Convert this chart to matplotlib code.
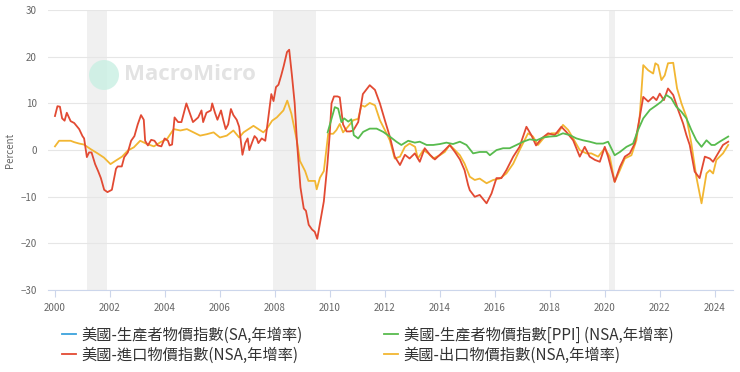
import matplotlib
matplotlib.use('Agg')
import matplotlib.pyplot as plt
from matplotlib.patches import Ellipse

plt.rcParams['font.family'] = ['Noto Sans CJK TC', 'DejaVu Sans']

# US import price index, YoY % (NSA)
imp_x = [2000.00, 2000.09, 2000.18, 2000.26, 2000.35, 2000.43, 2000.57, 2000.70, 2000.88, 2001.00,
         2001.06, 2001.16, 2001.24, 2001.33, 2001.46, 2001.57, 2001.67, 2001.79, 2001.91, 2002.07,
         2002.22, 2002.28, 2002.43, 2002.52, 2002.65, 2002.77, 2002.89, 2003.01, 2003.13, 2003.23,
         2003.28, 2003.38, 2003.50, 2003.62, 2003.74, 2003.87, 2003.99, 2004.11, 2004.17, 2004.26,
         2004.35, 2004.48, 2004.60, 2004.78, 2004.90, 2005.02, 2005.21, 2005.33, 2005.39, 2005.51,
         2005.67, 2005.72, 2005.82, 2005.91, 2006.04, 2006.12, 2006.21, 2006.30, 2006.40, 2006.49,
         2006.61, 2006.70, 2006.82, 2006.92, 2007.01, 2007.07, 2007.18, 2007.26, 2007.34, 2007.40,
         2007.52, 2007.65, 2007.74, 2007.87, 2007.95, 2008.04, 2008.13, 2008.23, 2008.32, 2008.44,
         2008.52, 2008.62, 2008.72, 2008.80, 2008.93, 2009.05, 2009.13, 2009.23, 2009.35, 2009.45,
         2009.54, 2009.66, 2009.78, 2009.91, 2009.99, 2010.06, 2010.15, 2010.28, 2010.36, 2010.48,
         2010.61, 2010.73, 2010.85, 2011.03, 2011.20, 2011.45, 2011.64, 2011.82, 2012.00, 2012.18,
         2012.36, 2012.55, 2012.73, 2012.90, 2013.09, 2013.27, 2013.45, 2013.64, 2013.82, 2014.00,
         2014.18, 2014.36, 2014.55, 2014.73, 2014.90, 2015.03, 2015.09, 2015.27, 2015.45, 2015.70,
         2015.88, 2016.06, 2016.24, 2016.42, 2016.67, 2016.90, 2017.15, 2017.33, 2017.50, 2017.70,
         2017.94, 2018.18, 2018.42, 2018.60, 2018.85, 2019.09, 2019.27, 2019.45, 2019.64, 2019.82,
         2020.00, 2020.12, 2020.36, 2020.55, 2020.73, 2020.91, 2021.09, 2021.21, 2021.40, 2021.58,
         2021.76, 2021.88, 2022.00, 2022.15, 2022.30, 2022.49, 2022.67, 2022.85, 2022.97, 2023.09,
         2023.27, 2023.45, 2023.64, 2023.82, 2023.94, 2024.12, 2024.30, 2024.49]
imp_y = [7.3, 9.4, 9.3, 6.8, 6.3, 8.0, 6.2, 5.8, 4.5, 3.0,
         2.5, -1.5, -0.5, -0.5, -3.0, -4.5, -6.0, -8.5, -9.0, -8.5,
         -4.0, -3.5, -3.5, -1.5, -0.5, 2.0, 3.0, 5.5, 7.5, 6.5,
         2.0, 1.0, 2.2, 2.0, 1.0, 0.8, 2.5, 2.0, 1.0, 1.2,
         7.0, 6.0, 6.0, 10.0, 8.0, 6.0, 7.0, 8.5, 6.0, 8.0,
         8.5, 10.0, 8.0, 6.5, 8.5, 6.5, 4.5, 5.5, 8.8, 7.5,
         6.5, 5.0, -1.0, 1.5, 2.5, 0.0, 1.8, 3.0, 2.5, 1.5,
         2.5, 2.0, 6.0, 12.0, 10.5, 13.5, 14.0, 16.0, 18.0, 21.0,
         21.5, 16.0, 10.0, 2.0, -8.0, -12.5, -13.0, -16.0, -17.0, -17.5,
         -19.0, -15.0, -11.0, -3.0, 3.0, 10.0, 11.5, 11.5, 11.3, 5.5,
         4.0, 4.0, 4.2, 6.0, 12.0, 13.9, 12.9, 10.0, 6.4, 2.9,
         -1.4, -3.2, -1.0, -1.8, -0.7, -2.5, 0.4, -1.0, -2.0, -1.0,
         0.0, 1.1, -0.4, -2.0, -4.3, -7.5, -8.6, -10.0, -9.6, -11.4,
         -9.3, -6.0, -6.0, -4.3, -1.4, 0.7, 5.0, 3.2, 1.0, 2.5,
         3.6, 3.2, 5.0, 3.9, 2.1, -1.4, 0.7, -1.4, -2.1, -2.5,
         0.7, -1.4, -6.8, -3.6, -1.4, -0.7, 1.4, 5.0, 11.4, 10.4,
         11.4, 10.7, 12.1, 10.7, 13.2, 11.8, 8.6, 5.7, 3.2, 1.1,
         -4.6, -6.0, -1.4, -1.8, -2.5, -0.7, 1.1, 1.8]

# US export price index, YoY % (NSA)
exp_x = [2000.00, 2000.15, 2000.35, 2000.57, 2000.70, 2000.88, 2001.05, 2001.30, 2001.55, 2001.78,
         2002.02, 2002.20, 2002.44, 2002.65, 2002.87, 2003.10, 2003.35, 2003.60, 2003.84, 2004.08,
         2004.32, 2004.56, 2004.80, 2005.04, 2005.28, 2005.52, 2005.77, 2006.00, 2006.25, 2006.49,
         2006.70, 2006.86, 2007.04, 2007.22, 2007.40, 2007.58, 2007.70, 2007.90, 2008.07, 2008.31,
         2008.45, 2008.60, 2008.80, 2008.91, 2009.10, 2009.22, 2009.46, 2009.52, 2009.64, 2009.78,
         2009.94, 2010.12, 2010.24, 2010.36, 2010.48, 2010.60, 2010.85, 2011.03, 2011.15, 2011.27,
         2011.45, 2011.64, 2011.82, 2012.00, 2012.18, 2012.36, 2012.55, 2012.73, 2012.90, 2013.10,
         2013.20, 2013.40, 2013.58, 2013.76, 2014.00, 2014.18, 2014.36, 2014.55, 2014.73, 2014.90,
         2015.09, 2015.27, 2015.45, 2015.70, 2015.94, 2016.18, 2016.42, 2016.67, 2016.90, 2017.21,
         2017.39, 2017.57, 2017.82, 2018.06, 2018.30, 2018.48, 2018.67, 2018.85, 2019.09, 2019.33,
         2019.51, 2019.76, 2020.00, 2020.18, 2020.36, 2020.55, 2020.73, 2020.97, 2021.15, 2021.27,
         2021.40, 2021.58, 2021.76, 2021.84, 2021.94, 2022.06, 2022.18, 2022.30, 2022.49, 2022.63,
         2022.79, 2022.97, 2023.15, 2023.33, 2023.52, 2023.70, 2023.82, 2023.94, 2024.06, 2024.30,
         2024.49]
exp_y = [0.8, 2.0, 2.0, 2.0, 1.7, 1.4, 1.2, 0.2, -0.7, -1.6,
         -3.0, -2.3, -1.4, -0.1, 0.6, 2.0, 1.3, 0.8, 1.7, 2.4,
         4.5, 4.2, 4.5, 3.8, 3.1, 3.4, 3.8, 2.7, 3.1, 4.2,
         2.7, 3.8, 4.5, 5.2, 4.5, 3.8, 4.5, 6.3, 7.0, 8.5,
         10.6, 7.8, 2.0, -2.3, -4.5, -6.6, -6.6, -8.4, -5.9, -4.5,
         3.5, 3.5, 4.3, 5.6, 3.8, 4.6, 6.4, 6.7, 9.6, 9.3,
         10.1, 9.6, 6.4, 4.3, 2.1, -1.8, -1.4, 0.7, 1.4, 0.7,
         -1.8, 0.0, -0.7, -1.8, -1.1, -0.4, 1.1, 0.0, -1.1, -2.9,
         -5.7, -6.4, -6.1, -7.1, -6.4, -6.1, -5.0, -2.9, 0.0, 3.6,
         2.9, 1.1, 2.9, 3.6, 3.6, 5.4, 4.3, 2.5, 0.0, -0.7,
         -0.7, -1.4, 0.4, -1.4, -6.8, -4.3, -1.8, -1.1, 2.1, 7.1,
         18.2, 17.1, 16.4, 18.6, 18.2, 15.0, 16.0, 18.6, 18.7, 13.2,
         10.0, 7.1, 1.4, -5.7, -11.4, -5.0, -4.3, -5.0, -2.1, -0.7,
         1.1]

# US PPI, YoY % (NSA), starts 2010
ppi_x = [2009.92, 2010.05, 2010.18, 2010.30, 2010.42, 2010.52, 2010.67, 2010.78, 2010.87, 2011.03,
         2011.21, 2011.45, 2011.70, 2011.94, 2012.18, 2012.42, 2012.60, 2012.85, 2013.09, 2013.27,
         2013.52, 2013.76, 2014.00, 2014.24, 2014.48, 2014.73, 2014.97, 2015.21, 2015.45, 2015.70,
         2015.82, 2016.06, 2016.30, 2016.54, 2016.79, 2017.03, 2017.27, 2017.52, 2017.76, 2018.00,
         2018.24, 2018.48, 2018.73, 2018.97, 2019.21, 2019.45, 2019.70, 2019.94, 2020.12, 2020.36,
         2020.55, 2020.79, 2021.03, 2021.21, 2021.40, 2021.64, 2021.88, 2022.06, 2022.24, 2022.42,
         2022.60, 2022.79, 2022.97, 2023.15, 2023.33, 2023.52, 2023.70, 2023.88, 2024.00, 2024.18,
         2024.49]
ppi_y = [3.8, 6.5, 9.2, 8.9, 6.0, 6.8, 6.1, 6.6, 3.2, 2.5,
         3.9, 4.6, 4.6, 3.9, 2.9, 1.8, 1.1, 2.0, 1.6, 1.8,
         1.1, 1.1, 1.3, 1.6, 1.3, 1.8, 1.1, -0.7, -0.4, -0.4,
         -1.1, 0.0, 0.4, 0.4, 1.1, 1.8, 2.3, 2.1, 2.7, 2.9,
         3.0, 3.6, 3.2, 2.5, 2.1, 1.8, 1.4, 1.4, 1.8, -1.1,
         -0.4, 0.7, 1.4, 4.3, 6.8, 8.6, 9.6, 10.4, 11.8, 11.1,
         9.3, 8.2, 6.8, 4.3, 2.1, 0.7, 2.1, 1.1, 1.1, 1.8,
         2.9]

recessions = [(2001.17, 2001.90), (2007.93, 2009.50), (2020.15, 2020.36)]
year_ticks = list(range(2000, 2025, 2))
y_ticks = [-30, -20, -10, 0, 10, 20, 30]

labels = ['美國-生產者物價指數(SA,年增率)', '美國-進口物價指數(NSA,年增率)',
          '美國-生產者物價指數[PPI] (NSA,年增率)', '美國-出口物價指數(NSA,年增率)']
colors = ['#3ba3dc', '#e24a33', '#58bb4e', '#f2b632']

fig = plt.figure(figsize=(7.4, 3.72), dpi=100)
ax = fig.add_axes([0.065, 0.22, 0.925, 0.753])

for a, b in recessions:
    ax.axvspan(a, b, color='#f0f0f0', lw=0, zorder=0)

ax.plot([], [], color=colors[0], lw=1.3, label=labels[0])
ax.plot(imp_x, imp_y, color=colors[1], lw=1.3, label=labels[1], zorder=3)
ax.plot(ppi_x, ppi_y, color=colors[2], lw=1.3, label=labels[2], zorder=4)
ax.plot(exp_x, exp_y, color=colors[3], lw=1.3, label=labels[3], zorder=2)

ax.set_xlim(1999.75, 2024.65)
ax.set_ylim(-30, 30)
ax.set_xticks(year_ticks)
ax.set_yticks(y_ticks)
ax.grid(axis='y', color='#e6e6e6', lw=0.8)
ax.set_axisbelow(True)
for s in ['top', 'right', 'left']:
    ax.spines[s].set_visible(False)
ax.spines['bottom'].set_color('#ccd6eb')
ax.tick_params(axis='x', colors='#ccd6eb', labelcolor='#666666', labelsize=7, length=5, pad=4)
ax.tick_params(axis='y', length=0, labelcolor='#666666', labelsize=7, pad=8)
ax.set_ylabel('Percent', color='#666666', fontsize=7, labelpad=4)

# watermark
fig.patches.append(Ellipse((104 / 740, 1 - 75 / 372), 30 / 740, 30 / 372,
                           transform=fig.transFigure, color='#c9efe3', alpha=0.8, lw=0))
fig.text(0.167, 1 - 75 / 372, 'MacroMicro', fontsize=16, color='#e3e3e3',
         va='center', ha='left', fontweight='bold', family=['Open Sans', 'DejaVu Sans'], zorder=1)

handles, labs = ax.get_legend_handles_labels()
fig.legend(handles, labs, loc='lower left', bbox_to_anchor=(0.065, -0.015), ncol=2,
           frameon=False, fontsize=11, handlelength=0.9, handletextpad=0.4,
           columnspacing=5.3, labelspacing=0.2, labelcolor='#333333')

fig.savefig('out.png', dpi=100)
